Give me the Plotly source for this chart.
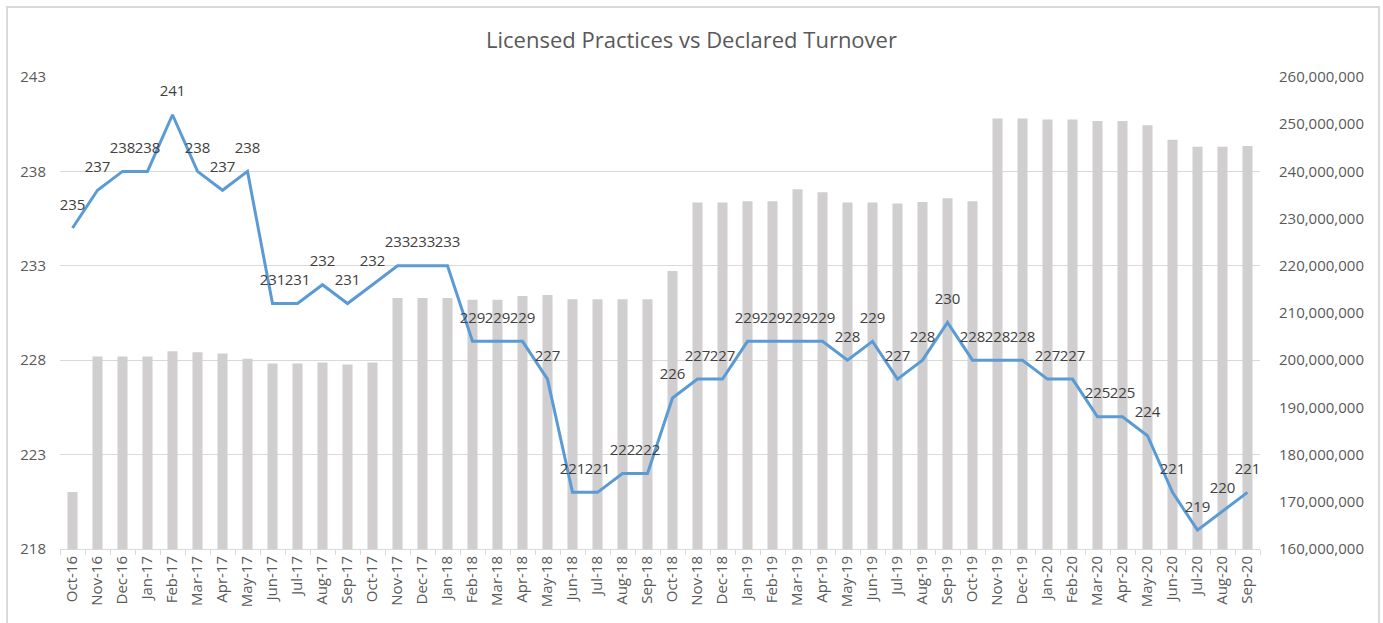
import plotly.graph_objects as go

months = ["Oct-16","Nov-16","Dec-16","Jan-17","Feb-17","Mar-17","Apr-17","May-17","Jun-17","Jul-17","Aug-17","Sep-17",
          "Oct-17","Nov-17","Dec-17","Jan-18","Feb-18","Mar-18","Apr-18","May-18","Jun-18","Jul-18","Aug-18","Sep-18",
          "Oct-18","Nov-18","Dec-18","Jan-19","Feb-19","Mar-19","Apr-19","May-19","Jun-19","Jul-19","Aug-19","Sep-19",
          "Oct-19","Nov-19","Dec-19","Jan-20","Feb-20","Mar-20","Apr-20","May-20","Jun-20","Jul-20","Aug-20","Sep-20"]

practices = [235,237,238,238,241,238,237,238,231,231,232,231,
             232,233,233,233,229,229,229,227,221,221,222,222,
             226,227,227,229,229,229,229,228,229,227,228,230,
             228,228,228,227,227,225,225,224,221,219,220,221]

turnover_m = [172.1,200.8,200.8,200.8,201.9,201.7,201.4,200.3,199.3,199.3,199.5,199.1,
              199.5,213.2,213.2,213.2,212.8,212.8,213.6,213.8,212.9,212.9,212.9,212.9,
              218.9,233.4,233.4,233.7,233.7,236.2,235.6,233.4,233.4,233.2,233.5,234.3,
              233.7,251.2,251.2,251.0,251.0,250.7,250.7,249.8,246.7,245.2,245.2,245.4]
turnover = [v * 1e6 for v in turnover_m]

left_ticks = [218, 223, 228, 233, 238, 243]
right_ticks = [160e6 + i * 10e6 for i in range(11)]

FONT = "Open Sans"
TXT = "#595959"

fig = go.Figure()
fig.add_trace(go.Bar(x=months, y=turnover, yaxis="y", marker_color="#D0CECE",
                     marker_line_width=0, width=0.4, name="Declared Turnover"))
fig.add_trace(go.Scatter(x=months, y=practices, yaxis="y2", mode="lines+markers+text",
                         line=dict(color="#5B9BD5", width=3),
                         marker=dict(size=22, opacity=0, color="#5B9BD5"),
                         text=[str(v) for v in practices],
                         textposition="top center", textfont=dict(size=15, color="#404040", family=FONT),
                         name="Licensed Practices", cliponaxis=False))

fig.update_layout(
    width=1383, height=623,
    margin=dict(l=60, r=123, t=77, b=74),
    paper_bgcolor="white", plot_bgcolor="white",
    showlegend=False,
    font=dict(family=FONT, size=15, color=TXT),
    title=dict(text="Licensed Practices vs Declared Turnover", x=0.5, xanchor="center",
               y=1 - 40 / 623, yanchor="middle", font=dict(size=22, color=TXT, family=FONT)),
    xaxis=dict(type="category", tickangle=-90, showgrid=False, showline=True, linecolor="#D9D9D9",
               ticks="outside", tickson="boundaries", ticklen=5, tickcolor="#D9D9D9",
               tickfont=dict(size=15, color=TXT), range=[-0.5, len(months) - 0.5]),
    yaxis=dict(range=[160e6, 260e6], tickvals=right_ticks, tickformat=",", side="right",
               showgrid=False, zeroline=False, showline=False, tickfont=dict(size=15, color=TXT),
               ticklabelstandoff=18),
    yaxis2=dict(range=[218, 243], tickvals=left_ticks, overlaying="y", side="left",
                showgrid=True, gridcolor="#D9D9D9", gridwidth=1,
                zeroline=False, showline=False, tickfont=dict(size=15, color=TXT), ticks="",
                ticklabelstandoff=13),
)

fig.add_shape(type="rect", xref="paper", yref="paper",
              x0=(7 - 60) / 1200, x1=(1379 - 60) / 1200,
              y0=-(640 - 549) / 472, y1=(549 - 7) / 472,
              line=dict(color="#D9D9D9", width=2), fillcolor="rgba(0,0,0,0)", layer="below")

fig.write_html("out.html", config={"displayModeBar": False},
               post_script="document.body.style.margin='0px';")
